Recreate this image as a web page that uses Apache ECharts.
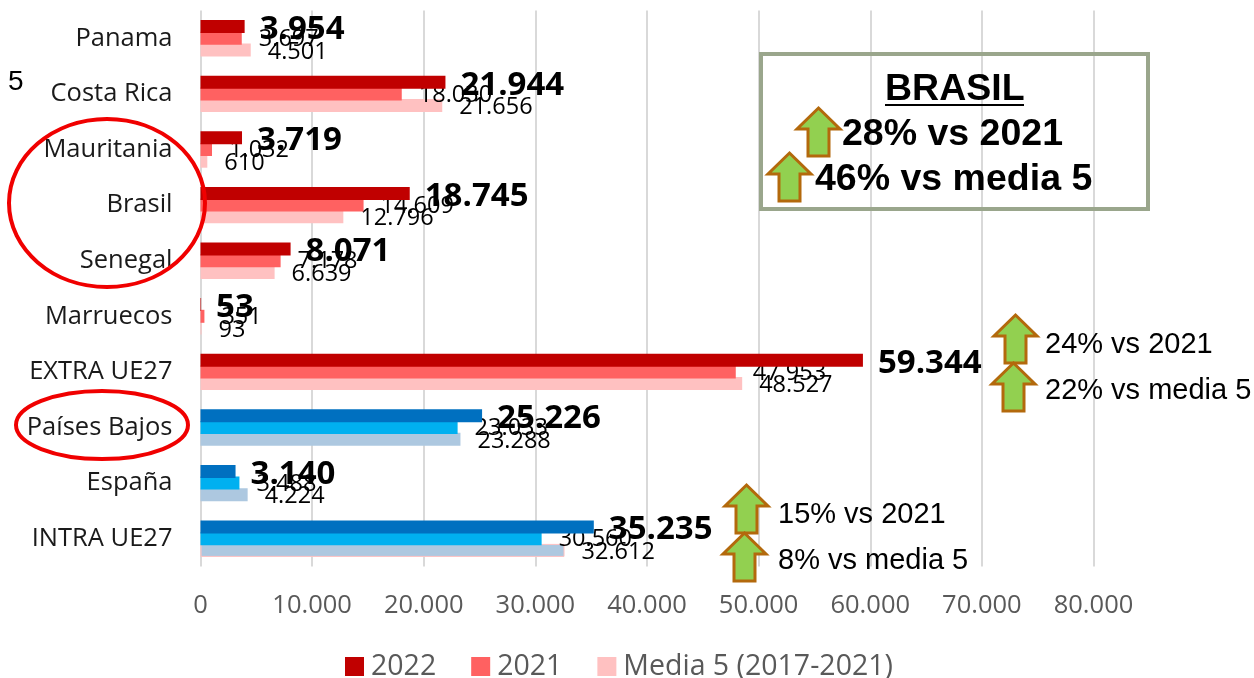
<!DOCTYPE html>
<html>
<head>
<meta charset="utf-8">
<style>html,body{margin:0;padding:0;background:#fff}#chart{width:1254px;height:678px}</style>
<script src="https://cdn.jsdelivr.net/npm/echarts@6/dist/echarts.min.js"></script>
</head>
<body>
<div id="chart"></div>
<script>
var categories = ['Panama', 'Costa Rica', 'Mauritania', 'Brasil', 'Senegal', 'Marruecos', 'EXTRA UE27', 'Países Bajos', 'España', 'INTRA UE27'];
var values2022 = [3954, 21944, 3719, 18745, 8071, 53, 59344, 25226, 3140, 35235];
var values2021 = [3697, 18030, 1032, 14609, 7178, 351, 47953, 23033, 3488, 30560];
var valuesMedia = [4501, 21656, 610, 12796, 6639, 93, 48527, 23288, 4224, 32612];
var blueCategories = ['Países Bajos', 'España', 'INTRA UE27'];

var redColors = ['#c00000', '#ff6161', '#ffc1c1'];
var blueColors = ['#0070c0', '#00b0f0', '#adc8e0'];

function fmt(v) {
	return String(v).replace(/\B(?=(\d{3})+(?!\d))/g, '.');
}

// the last three categories are blue, the legend stays red
function barData(values, idx) {
	return values.map(function (v, i) {
		if (blueCategories.indexOf(categories[i]) < 0) return v;
		var style = { color: blueColors[idx] };
		if (idx == 2 && categories[i] == 'INTRA UE27') {
			style.borderColor = redColors[2];
			style.borderWidth = 1;
		}
		return { value: v, itemStyle: style };
	});
}

function makeSeries(name, values, idx, z, label) {
	return {
		name: name,
		type: 'bar',
		z: z,
		barWidth: 13,
		barGap: '-10%',
		itemStyle: { color: redColors[idx] },
		label: Object.assign({
			show: true,
			position: 'right',
			color: '#000',
			fontFamily: 'Open Sans',
			formatter: function (p) { return fmt(p.value); }
		}, label),
		data: barData(values, idx)
	};
}

function arrow(x, y) {
	return {
		type: 'polygon',
		z: 20,
		shape: {
			points: [[x + 21.5, y], [x + 43, y + 21], [x + 32, y + 21], [x + 32, y + 48], [x + 11, y + 48], [x + 11, y + 21], [x, y + 21]]
		},
		style: { fill: '#92d050', stroke: '#b3690c', lineWidth: 3 }
	};
}

function note(text, x, y, size, weight) {
	return {
		type: 'text',
		z: 21,
		x: x,
		y: y,
		style: {
			text: text,
			fill: '#000',
			font: (weight || 'normal') + ' ' + size + 'px "Liberation Sans"',
			textVerticalAlign: 'middle'
		}
	};
}

function ring(cx, cy, rx, ry) {
	return {
		type: 'ellipse',
		z: 22,
		shape: { cx: cx, cy: cy, rx: rx, ry: ry },
		style: { fill: 'none', stroke: '#f00000', lineWidth: 4 }
	};
}

var myChart = echarts.init(document.getElementById('chart'));
myChart.setOption({
	animation: false,
	backgroundColor: '#fff',
	grid: { left: 200.5, right: 160.5, top: 10.5, bottom: 111.5, containLabel: false },
	legend: {
		left: 345,
		top: 652,
		padding: 0,
		icon: 'rect',
		itemWidth: 19,
		itemHeight: 19,
		itemGap: 35,
		textStyle: { fontFamily: 'Open Sans', fontSize: 28.5, lineHeight: 19, color: '#595959', padding: [0, 0, 0, 2] }
	},
	xAxis: {
		type: 'value',
		min: 0,
		max: 80000,
		interval: 10000,
		axisLine: { show: false },
		axisTick: { show: false },
		splitLine: { lineStyle: { color: '#d9d9d9', width: 2 } },
		axisLabel: {
			color: '#595959',
			fontFamily: 'Open Sans',
			fontSize: 25.5,
			margin: 26,
			formatter: function (v) { return fmt(v); }
		}
	},
	yAxis: {
		type: 'category',
		inverse: true,
		data: categories,
		axisLine: { show: false },
		axisTick: { show: false },
		axisLabel: { color: '#1a1a1a', fontFamily: 'Open Sans', fontSize: 25.5, margin: 28, padding: [7, 0, 0, 0] }
	},
	series: [
		makeSeries('2022', values2022, 0, 4, { fontSize: 33, fontWeight: 'bold', distance: 15, offset: [0, 3] }),
		makeSeries('2021', values2021, 1, 3, { fontSize: 23.5, distance: 17, offset: [0, 1] }),
		makeSeries('Media 5 (2017-2021)', valuesMedia, 2, 2, { fontSize: 23.5, distance: 17, offset: [0, 2] })
	],
	graphic: [
		note('5', 8, 82, 28),
		ring(107, 203, 98, 84),
		ring(102, 425, 86, 34),
		{
			type: 'rect',
			z: 20,
			shape: { x: 761, y: 54, width: 387, height: 155 },
			style: { fill: 'none', stroke: '#9aa68c', lineWidth: 4 }
		},
		note('BRASIL', 885, 90, 37.5, 'bold'),
		{
			type: 'line',
			z: 21,
			shape: { x1: 885, y1: 105, x2: 1024, y2: 105 },
			style: { stroke: '#000', lineWidth: 2 }
		},
		arrow(797, 108),
		note('28% vs 2021', 842, 135, 37.5, 'bold'),
		arrow(768, 153),
		note('46% vs media 5', 815, 180, 37.5, 'bold'),
		arrow(994, 315),
		note('24% vs 2021', 1045, 345, 29),
		arrow(992, 363),
		note('22% vs media 5', 1045, 391, 29),
		arrow(725, 485),
		note('15% vs 2021', 778, 515, 29),
		arrow(723, 533),
		note('8% vs media 5', 778, 561, 29)
	]
});
</script>
</body>
</html>
